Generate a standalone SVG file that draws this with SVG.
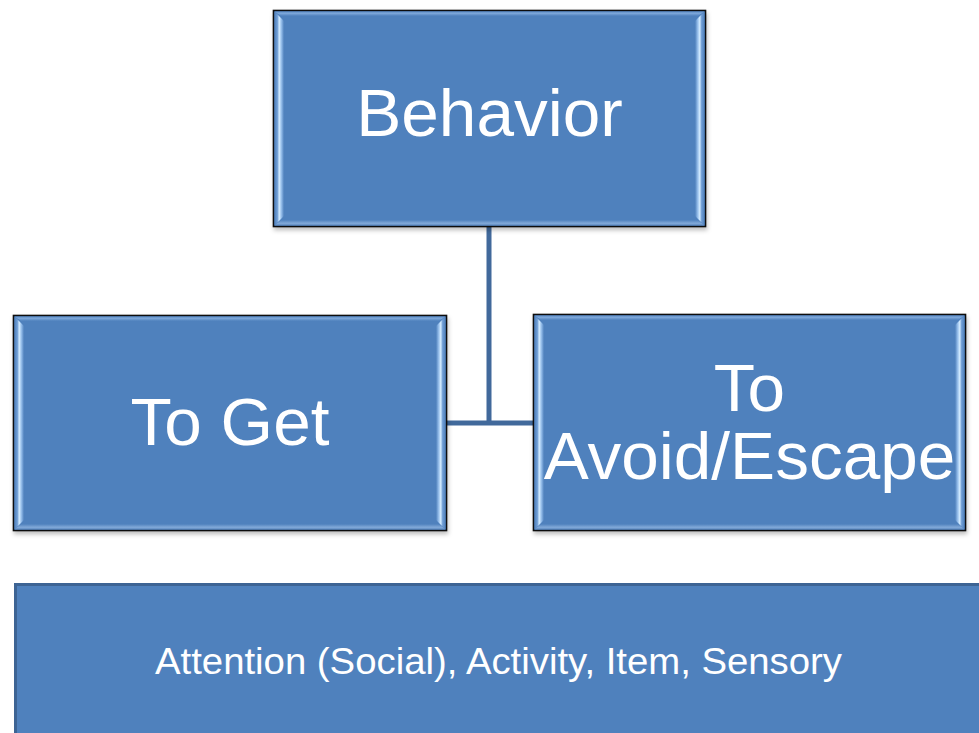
<svg xmlns="http://www.w3.org/2000/svg" width="979" height="733" viewBox="0 0 979 733">
  <defs>
    <style>
      .box { fill: #4f81bd; stroke: #111; stroke-width: 1.6; }
      .label { fill: #ffffff; font-family: "Liberation Sans", Arial, sans-serif; text-anchor: middle; }
      .big { font-size: 67.5px; }
      .small { font-size: 36px; }
      .wire { fill: none; stroke: #41699b; stroke-width: 5; }
      .band { fill: #4f81bd; stroke: #3d6494; stroke-width: 3; }
    </style>
    <linearGradient id="bevelL" x1="0" y1="0" x2="1" y2="0">
      <stop offset="0" stop-color="#4f81bd"/>
      <stop offset="0.3" stop-color="#6f9dd4"/>
      <stop offset="0.5" stop-color="#d4ecff"/>
      <stop offset="0.7" stop-color="#9cc3ee"/>
      <stop offset="1" stop-color="#4f81bd"/>
    </linearGradient>
    <linearGradient id="bevelR" x1="1" y1="0" x2="0" y2="0">
      <stop offset="0" stop-color="#4f81bd"/>
      <stop offset="0.3" stop-color="#6f9dd4"/>
      <stop offset="0.5" stop-color="#d4ecff"/>
      <stop offset="0.7" stop-color="#9cc3ee"/>
      <stop offset="1" stop-color="#4f81bd"/>
    </linearGradient>
    <linearGradient id="bevelT" x1="0" y1="0" x2="0" y2="1">
      <stop offset="0" stop-color="#5a8ac4"/>
      <stop offset="0.4" stop-color="#7ea8da"/>
      <stop offset="1" stop-color="#4f81bd"/>
    </linearGradient>
    <linearGradient id="bevelB" x1="0" y1="1" x2="0" y2="0">
      <stop offset="0" stop-color="#5a88c0"/>
      <stop offset="0.4" stop-color="#82a9d8"/>
      <stop offset="1" stop-color="#4f81bd"/>
    </linearGradient>
    <filter id="shadow" x="-5%" y="-5%" width="110%" height="115%">
      <feDropShadow dx="1" dy="3" stdDeviation="2" flood-color="#000" flood-opacity="0.25"/>
    </filter>
  </defs>

  <!-- connectors from the top box to the two middle boxes -->
  <g id="connectors">
    <path class="wire" d="M489 227 V423"/>
    <path class="wire" d="M447 423 H533"/>
  </g>

  <!-- top node -->
  <g id="behavior">
    <rect class="box" x="273.5" y="10.5" width="432" height="216" filter="url(#shadow)"/>
    <polygon fill="url(#bevelL)" points="274.5,11.5 284,21 284,216 274.5,225.5"/>
    <polygon fill="url(#bevelR)" points="704.5,11.5 695,21 695,216 704.5,225.5"/>
    <polygon fill="url(#bevelT)" points="274.5,11.5 704.5,11.5 698,16 281,16"/>
    <polygon fill="url(#bevelB)" points="274.5,225.5 704.5,225.5 698,220 281,220"/>
    <text class="label big" x="489.5" y="136">Behavior</text>
  </g>

  <!-- left middle node -->
  <g id="to-get">
    <rect class="box" x="13.5" y="315.5" width="433" height="215" filter="url(#shadow)"/>
    <polygon fill="url(#bevelL)" points="14.5,316.5 24,326 24,520 14.5,529.5"/>
    <polygon fill="url(#bevelR)" points="445.5,316.5 436,326 436,520 445.5,529.5"/>
    <polygon fill="url(#bevelT)" points="14.5,316.5 445.5,316.5 439,321 21,321"/>
    <polygon fill="url(#bevelB)" points="14.5,529.5 445.5,529.5 439,524 21,524"/>
    <text class="label big" x="230" y="444.5">To Get</text>
  </g>

  <!-- right middle node -->
  <g id="to-avoid">
    <rect class="box" x="533.5" y="314.5" width="432" height="216" filter="url(#shadow)"/>
    <polygon fill="url(#bevelL)" points="534.5,315.5 544,325 544,520 534.5,529.5"/>
    <polygon fill="url(#bevelR)" points="964.5,315.5 955,325 955,520 964.5,529.5"/>
    <polygon fill="url(#bevelT)" points="534.5,315.5 964.5,315.5 958,320 541,320"/>
    <polygon fill="url(#bevelB)" points="534.5,529.5 964.5,529.5 958,524 541,524"/>
    <text class="label big" x="749.5" y="410.5">To</text>
    <text class="label big" x="749.5" y="478.5">Avoid/Escape</text>
  </g>

  <!-- bottom band -->
  <g id="functions">
    <rect class="band" x="15.5" y="584.5" width="1000" height="200"/>
    <text class="label small" x="498.5" y="674" textLength="687" lengthAdjust="spacingAndGlyphs">Attention (Social), Activity, Item, Sensory</text>
  </g>
</svg>
